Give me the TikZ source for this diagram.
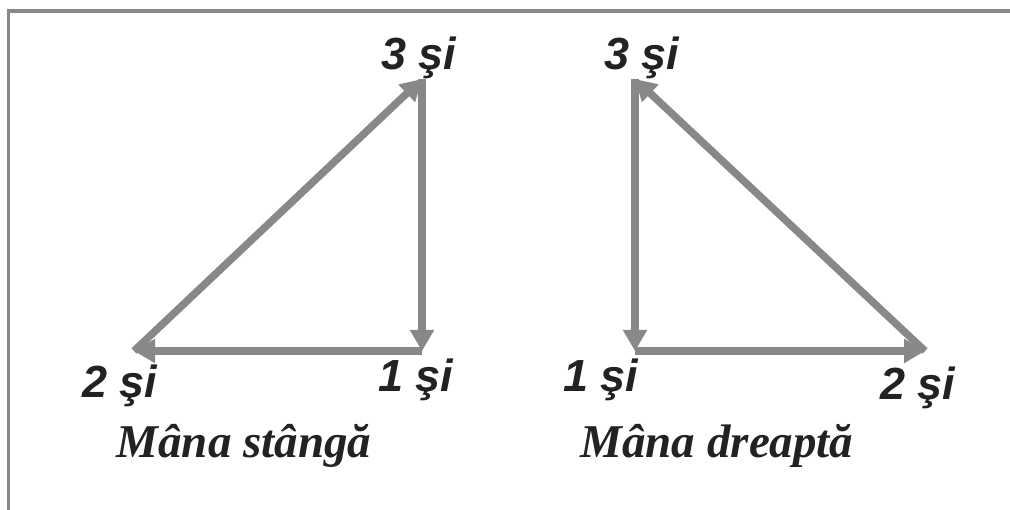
\documentclass[tikz,border=0pt]{standalone}
\usepackage{fontspec}
\setmainfont{Liberation Serif}
\setsansfont{Liberation Sans}
\usetikzlibrary{arrows.meta}
\definecolor{arrgray}{HTML}{888888}
\definecolor{txtdark}{HTML}{222222}
\tikzset{
  arr/.style={draw=arrgray, line width=7.5pt, -{Triangle[length=21pt,width=23pt]}},
  frameline/.style={draw=arrgray, line width=3.5pt},
  lbl/.style={text=txtdark, font=\sffamily\bfseries\itshape\fontsize{45}{50}\selectfont, inner sep=0pt, anchor=base},
  captext/.style={text=txtdark, font=\rmfamily\bfseries\itshape\fontsize{47}{52}\selectfont, inner sep=0pt, anchor=base}
}
\begin{document}
\begin{tikzpicture}[x=1pt,y=-1pt]
\useasboundingbox (0,0) rectangle (1010,510);
% frame
\coordinate (fbl) at (8.5,512);
\coordinate (ftl) at (8.5,11);
\coordinate (ftr) at (1012,11);
\draw[frameline] (fbl) -- (ftl) -- (ftr);
% left triangle
\coordinate (L3) at (422,79);
\coordinate (L1) at (422,351);
\coordinate (L2) at (134,351);
\draw[arr] (L3) -- (L1);
\draw[arr] (L1) -- (L2);
\draw[arr] (L2) -- (L3);
% right triangle
\coordinate (R3) at (635,79);
\coordinate (R1) at (635,351);
\coordinate (R2) at (925,351);
\draw[arr] (R3) -- (R1);
\draw[arr] (R1) -- (R2);
\draw[arr] (R2) -- (R3);
% labels
\node[lbl] (tL3) at (419,70) {3 şi};
\node[lbl] (tL1) at (416,392) {1 şi};
\node[lbl] (tL2) at (120,398) {2 şi};
\node[lbl] (tR3) at (642,70) {3 şi};
\node[lbl] (tR1) at (601,392) {1 şi};
\node[lbl] (tR2) at (918,400) {2 şi};
\node[captext] (cL) at (244,458) {Mâna stângă};
\node[captext] (cR) at (717,458) {Mâna dreaptă};
\end{tikzpicture}
\end{document}
